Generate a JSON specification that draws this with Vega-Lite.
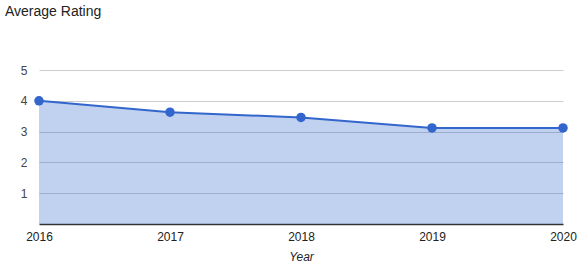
{
  "$schema": "https://vega.github.io/schema/vega-lite/v6.json",
  "width": 524,
  "height": 154,
  "autosize": {"type": "none"},
  "padding": {"left": 39, "top": 70, "right": 15, "bottom": 44},
  "background": "white",
  "title": {"text": "Average Rating", "anchor": "start", "frame": "group", "dx": -34, "offset": 45, "font": "Liberation Sans", "fontSize": 14, "fontWeight": "normal", "color": "#222"},
  "config": {"view": {"stroke": null}, "font": "Liberation Sans"},
  "data": {"values": [
    {"Year": 2016, "Rating": 4.0},
    {"Year": 2017, "Rating": 3.63},
    {"Year": 2018, "Rating": 3.46},
    {"Year": 2019, "Rating": 3.12},
    {"Year": 2020, "Rating": 3.12}
  ]},
  "encoding": {
    "x": {"field": "Year", "type": "quantitative", "scale": {"domain": [2016, 2020], "nice": false, "zero": false},
      "axis": {"values": [2016, 2017, 2018, 2019, 2020], "format": "d", "grid": false, "ticks": false, "labelFlush": false, "domainColor": "#333", "domainWidth": 1.5, "labelFontSize": 12, "labelColor": "#222", "labelPadding": 7, "title": "Year", "titleFontStyle": "italic", "titleFontWeight": "normal", "titleFontSize": 12, "titleColor": "#222", "titlePadding": 9}},
    "y": {"field": "Rating", "type": "quantitative", "scale": {"domain": [0, 5], "nice": false},
      "axis": {"values": [1, 2, 3, 4, 5], "title": null, "domain": false, "ticks": false, "gridColor": "#ccc", "labelFontSize": 12, "labelColor": "#444", "labelPadding": 12}}
  },
  "layer": [
    {"mark": {"type": "area", "color": "#3366cc", "fillOpacity": 0.3}},
    {"mark": {"type": "line", "color": "#3366cc", "strokeWidth": 2}},
    {"mark": {"type": "point", "filled": true, "color": "#3366cc", "opacity": 1, "size": 90}}
  ]
}
